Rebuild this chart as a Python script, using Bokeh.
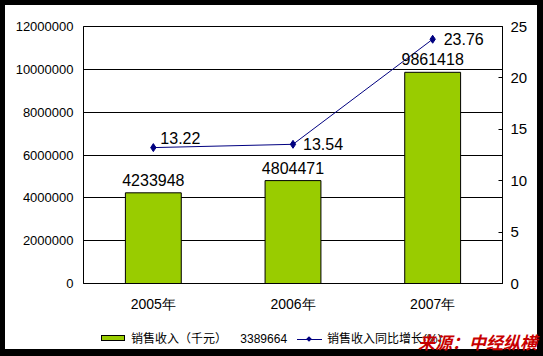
from bokeh.plotting import figure
from bokeh.layouts import column
from bokeh.models import (Range1d, LinearAxis, FixedTicker, BasicTickFormatter,
                          LabelSet, ColumnDataSource, Div)
from bokeh.core.properties import value
from bokeh.embed import file_html
from bokeh.resources import INLINE

# ---- data ----
years = ["2005年", "2006年", "2007年"]
revenue = [4233948, 4804471, 9861418]          # 销售收入（千元）
growth = [13.22, 13.54, 23.76]                 # 销售收入同比增长(%)
left_ticks = [0, 2000000, 4000000, 6000000, 8000000, 10000000, 12000000]
right_ticks = [0, 5, 10, 15, 20, 25]
legend_labels = ["销售收入（千元）\u00a0\u00a0\u00a0\u00a03389664", "销售收入同比增长(%)"]
source_note = "来源：中经纵横"

FONT = "Liberation Sans"
BAR_COLOR = "#99CC00"
LINE_COLOR = "#000080"

W, H_TOP, H_BOT = 543, 318, 38

p = figure(x_range=years, y_range=Range1d(0, 12000000), width=W, height=H_TOP,
           output_backend="svg", toolbar_location=None,
           min_border_left=83, min_border_right=41, min_border_top=26, min_border_bottom=35)
p.extra_y_ranges = {"pct": Range1d(0, 25)}
p.background_fill_color = "white"
p.border_fill_color = "white"
p.border_fill_alpha = 0
p.outline_line_color = "black"
p.outline_line_width = 1
p.styles = {"background-color": "white",
            "box-shadow": "inset 5px 0 0 0 #000, inset 0 5px 0 0 #000, inset -6px 0 0 0 #000"}

src = ColumnDataSource(dict(x=years, top=revenue, lbl=[str(v) for v in revenue]))
bars = p.vbar(x="x", top="top", width=0.4, source=src, fill_color=BAR_COLOR,
              line_color="black", line_width=1)

line = p.line(x=years, y=growth, y_range_name="pct", line_color=LINE_COLOR, line_width=1)
pts = p.scatter(x=years, y=growth, y_range_name="pct", marker="diamond", size=8,
                fill_color=LINE_COLOR, line_color=LINE_COLOR)

# bar value labels
p.add_layout(LabelSet(x="x", y="top", text="lbl", source=src, y_offset=7,
                      text_align="center", text_baseline="bottom",
                      text_font=value(FONT), text_font_size="16px", text_color="black"))

# growth labels (individual offsets)
offsets = [(7, 4, "bottom"), (10, 0, "middle"), (11, 0, "middle")]
for i, (dx, dy, base) in enumerate(offsets):
    p.text(x=[years[i]], y=[growth[i]], text=[f"{growth[i]:.2f}"], y_range_name="pct",
           x_offset=dx, y_offset=-dy, text_align="left", text_baseline=base,
           text_font=value(FONT), text_font_size="16px", text_color="black")

# axes
p.xgrid.grid_line_color = None
p.ygrid.grid_line_color = "black"
p.ygrid.grid_line_width = 1

ly = p.yaxis[0]
ly.ticker = FixedTicker(ticks=left_ticks)
ly.formatter = BasicTickFormatter(use_scientific=False)
ly.major_tick_in = 0
ly.major_tick_out = 0
ly.minor_tick_in = 0
ly.minor_tick_out = 0
ly.major_label_standoff = 10
ly.axis_line_color = "black"
ly.major_label_text_font = FONT
ly.major_label_text_font_size = "13px"
ly.major_label_text_color = "black"

ry = LinearAxis(y_range_name="pct", ticker=FixedTicker(ticks=right_ticks))
ry.major_tick_in = 4
ry.major_tick_out = 0
ry.minor_tick_in = 0
ry.minor_tick_out = 0
ry.major_label_standoff = 8
ry.axis_line_color = "black"
ry.major_label_text_font = FONT
ry.major_label_text_font_size = "15px"
ry.major_label_text_color = "black"
p.add_layout(ry, "right")

xa = p.xaxis[0]
xa.major_tick_in = 0
xa.major_tick_out = 0
xa.axis_line_color = "black"
xa.major_label_standoff = 12
xa.major_label_text_font = FONT
xa.major_label_text_font_size = "14px"
xa.major_label_text_color = "black"

# ---- bottom strip: legend + source note ----
legend_html = f"""
<div style="position:relative;width:{W}px;height:{H_BOT}px;font-family:'{FONT}','Noto Sans CJK SC';color:#000;">
  <span style="position:absolute;left:101px;top:17px;width:24px;height:6px;background:{BAR_COLOR};border:1px solid #000;"></span>
  <span style="position:absolute;left:131px;top:13px;font-size:12px;line-height:16px;white-space:pre;">{legend_labels[0]}</span>
  <span style="position:absolute;left:297px;top:21px;width:25px;height:1px;background:{LINE_COLOR};"></span>
  <span style="position:absolute;left:307px;top:19px;width:4px;height:4px;background:{LINE_COLOR};transform:rotate(45deg);"></span>
  <span style="position:absolute;left:327px;top:13px;font-size:12px;line-height:16px;white-space:pre;">{legend_labels[1]}</span>
  <span style="position:absolute;left:418px;top:14px;font-family:'Noto Sans CJK SC';font-size:17px;line-height:20px;font-weight:bold;font-style:italic;color:#C80000;white-space:pre;">{source_note}</span>
</div>
"""
b = Div(text=legend_html, width=W, height=H_BOT, margin=0)
b.styles = {"background-color": "white",
            "box-shadow": "inset 5px 0 0 0 #000, inset -6px 0 0 0 #000, inset 0 -7px 0 0 #000"}

layout = column(p, b, spacing=0)

open("out.html", "w").write(file_html(layout, INLINE))
